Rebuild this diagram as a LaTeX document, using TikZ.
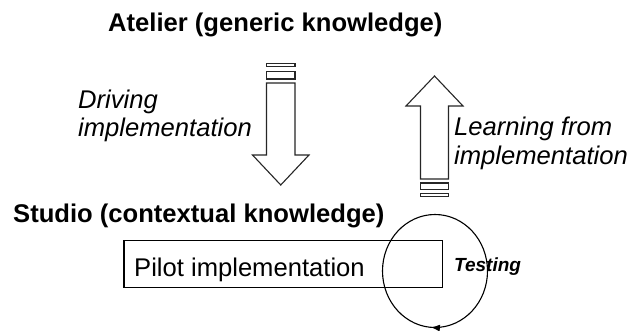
\documentclass[tikz,border=0pt]{standalone}
\usepackage{fontspec}
\setmainfont{Liberation Sans}
\usetikzlibrary{arrows.meta,decorations.markings}
\begin{document}
\begin{tikzpicture}[x=1pt,y=-1pt,
  blockarrow/.style={draw=black!85,line width=1.1pt,fill=white,line join=miter},
  stripe/.style={draw=black!85,line width=1.1pt,fill=white},
  heading/.style={inner sep=0pt,anchor=base west,font=\fontsize{25.6}{28.5}\selectfont\bfseries},
  label/.style={inner sep=0pt,anchor=base west,align=left,font=\fontsize{25.6}{28.5}\selectfont\itshape},
  pilotbox/.style={draw=black,line width=1.2pt},
  loopline/.style={draw=black,line width=1.1pt}]
\useasboundingbox (0,0) rectangle (635,331);
% headings
\node[heading] (atelier) at (108,31.5) {Atelier (generic knowledge)};
\node[heading] (studio) at (13,222.3) {Studio (contextual knowledge)};
% down arrow
\draw[stripe] (266.5,63.3) rectangle (295,66.7);
\draw[stripe] (266.5,71.5) rectangle (295,79);
\draw[blockarrow] (266.5,83) -- (295,83) -- (295,155) -- (309,155) -- (280.75,185)
  -- (252.5,155) -- (266.5,155) -- cycle;
% up arrow
\draw[blockarrow] (420.5,179) -- (448.5,179) -- (448.5,106) -- (463,106) -- (434.5,76)
  -- (406,106) -- (420.5,106) -- cycle;
\draw[stripe] (420.5,183) rectangle (448.5,189.3);
\draw[stripe] (420.5,193.3) rectangle (448.5,196.7);
% labels (base anchor = last line's baseline)
\node[label] (driving) at (78,136.6) {Driving\\implementation};
\node[label] (learning) at (454,164.4) {Learning from\\implementation};
% pilot box
\draw[pilotbox] (124,240.5) rectangle (442.5,287.5);
\node[inner sep=0pt,anchor=base west,font=\fontsize{25.6}{28.5}\selectfont] (pilot) at (134,276.7) {Pilot implementation};
% testing loop
\draw[loopline,postaction={decorate},decoration={markings,
  mark=at position 0.262 with {\arrow{Latex[length=9pt,width=7pt]}}}]
  (435,271) ellipse [x radius=52.5, y radius=56.5];
\node[inner sep=0pt,anchor=base west,font=\fontsize{19}{22}\selectfont\bfseries\itshape] (testing) at (454,271.7) {Testing};
\end{tikzpicture}
\end{document}
